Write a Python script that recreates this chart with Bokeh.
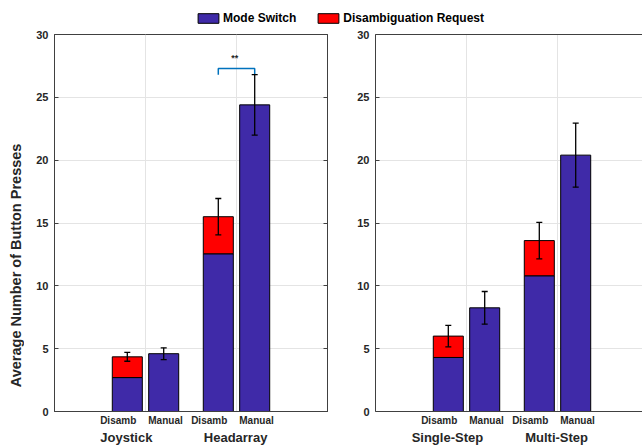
import numpy as np
from bokeh.plotting import figure
from bokeh.models import (Range1d, Whisker, TeeHead, Legend, LegendItem,
                          FixedTicker, LinearAxis, ColumnDataSource, CustomJSTickFormatter)
from bokeh.core.properties import value
from bokeh.layouts import column, row
from bokeh.embed import file_html
from bokeh.resources import INLINE

# ---------------- data ----------------
sub_labels = ["Disamb", "Manual"]
legend_labels = ["Mode Switch", "Disambiguation Request"]
y_title = "Average Number of Button Presses"
sig_text = "**"
y_ticks = [0, 5, 10, 15, 20, 25, 30]

left_groups = ["Joystick", "Headarray"]
left_ms_disamb = [2.7, 12.55]      # mode switch part of Disamb bar
left_dr_disamb = [1.65, 2.95]      # disambiguation request part
left_err_disamb = [0.35, 1.45]
left_ms_manual = [4.6, 24.4]
left_err_manual = [0.47, 2.4]

right_groups = ["Single-Step", "Multi-Step"]
right_ms_disamb = [4.3, 10.8]
right_dr_disamb = [1.7, 2.8]
right_err_disamb = [0.85, 1.45]
right_ms_manual = [8.25, 20.4]
right_err_manual = [1.3, 2.55]

# ---------------- style / layout ----------------
FONT = "Liberation Sans"
MS_COLOR = "#3F2AA8"
DR_COLOR = "#FF0000"
AX_COLOR = "#404040"
TXT_COLOR = "#262626"
GRID_COLOR = "#e4e4e4"
BAR_W = 0.33
BAR_OFF = 0.2
SUB_OFF = [-0.30, 0.22]
GROUP_LABEL_X = [0.79, 1.99]
PX_PER_UNIT = 91.0
LEG_H = 28
PANEL_H = 400
GROUP_H = 18
TITLE_W = 24
P1_W, P1_BL, P1_BR = 323, 30, 20
P2_W, P2_BL = 295, 28


def style_axis(ax, labels=True):
    ax.axis_line_color = AX_COLOR
    ax.major_tick_line_color = AX_COLOR
    ax.minor_tick_line_color = None
    ax.major_tick_in = 4
    ax.major_tick_out = 0
    ax.major_label_text_font = FONT
    ax.major_label_text_font_style = "bold"
    ax.major_label_text_font_size = "11px"
    ax.major_label_text_color = TXT_COLOR
    if not labels:
        ax.formatter = CustomJSTickFormatter(code="return ''")
        ax.major_label_standoff = 0


def panel(groups, ms_d, dr_d, err_d, ms_m, err_m, width, mbl, mbr, x_end,
          first, sig=False):
    p = figure(width=width, height=PANEL_H, x_range=Range1d(0, x_end),
               y_range=Range1d(0, 30), output_backend="svg",
               toolbar_location=None, min_border_left=mbl,
               min_border_right=mbr, min_border_top=6, min_border_bottom=16)
    p.background_fill_color = "white"
    p.border_fill_color = "white"
    gx = np.arange(1, len(groups) + 1, dtype=float)
    xd = gx - BAR_OFF
    xm = gx + BAR_OFF
    ms_d = np.array(ms_d)
    tot = ms_d + np.array(dr_d)

    p.xgrid.ticker = FixedTicker(ticks=list(gx))
    p.ygrid.ticker = FixedTicker(ticks=y_ticks)
    p.grid.grid_line_color = GRID_COLOR
    p.grid.grid_line_width = 1

    yax = p.left[0]
    yax.ticker = FixedTicker(ticks=y_ticks)
    style_axis(yax)
    yax.major_label_standoff = 6

    # bottom axis: sub labels
    sub_x = [float(g + SUB_OFF[si]) for g in gx for si in range(len(sub_labels))]
    sub_t = [sub_labels[si] for g in gx for si in range(len(sub_labels))]
    xax = p.below[0]
    style_axis(xax)
    xax.ticker = FixedTicker(ticks=sub_x)
    xax.formatter = CustomJSTickFormatter(args=dict(labels=sub_t),
                                          code="return labels[index];")
    xax.major_tick_in = 0
    xax.major_tick_out = 0
    xax.major_label_text_font_size = "10px"
    xax.major_label_standoff = 3

    p.vbar(x=xd, bottom=0, top=ms_d, width=BAR_W, fill_color=MS_COLOR,
           line_color="black", line_width=1)
    p.vbar(x=xd, bottom=ms_d, top=tot, width=BAR_W, fill_color=DR_COLOR,
           line_color="black", line_width=1)
    p.vbar(x=xm, bottom=0, top=ms_m, width=BAR_W, fill_color=MS_COLOR,
           line_color="black", line_width=1)

    means = np.concatenate([tot, np.array(ms_m)])
    errs = np.concatenate([np.array(err_d), np.array(err_m)])
    src = ColumnDataSource(dict(x=np.concatenate([xd, xm]),
                                lower=means - errs, upper=means + errs))
    w = Whisker(base="x", lower="lower", upper="upper", source=src,
                dimension="height", line_color="black", line_width=1.3,
                upper_head=TeeHead(size=6, line_color="black", line_width=1.3),
                lower_head=TeeHead(size=6, line_color="black", line_width=1.3),
                level="annotation")
    p.add_layout(w)

    if first:
        p.outline_line_color = AX_COLOR
        p.outline_line_alpha = 1
        rax = LinearAxis(ticker=FixedTicker(ticks=y_ticks))
        style_axis(rax, labels=False)
        p.add_layout(rax, "right")
    else:
        p.outline_line_color = None
        tax = LinearAxis(ticker=FixedTicker(ticks=[]))
        style_axis(tax, labels=False)
        tax.major_tick_in = 0
        p.add_layout(tax, "above")

    if sig:
        g = gx[1]
        top = max(tot[1] + err_d[1], ms_m[1] + err_m[1])
        by = top + 0.5
        p.line(x=[g - BAR_OFF, g - BAR_OFF, g + BAR_OFF, g + BAR_OFF],
               y=[top, by, by, top], line_color="#0072BD", line_width=1.5)
        p.text(x=[g - 0.02], y=[by + 0.8], text=[sig_text],
               text_align="center", text_baseline="middle",
               text_font=value(FONT), text_font_style="bold",
               text_font_size="9px", text_color=TXT_COLOR)
    return p


# y-axis title strip
tf = figure(width=TITLE_W, height=PANEL_H, x_range=Range1d(0, TITLE_W),
            y_range=Range1d(0, PANEL_H), output_backend="svg",
            toolbar_location=None, x_axis_location=None, y_axis_location=None,
            min_border=0, outline_line_color=None)
tf.grid.visible = False
tf.text(x=[15], y=[PANEL_H - 245], text=[y_title], angle=np.pi / 2,
        text_align="center", text_baseline="middle", text_font=value(FONT),
        text_font_style="bold", text_font_size="14.5px", text_color=TXT_COLOR)

p1 = panel(left_groups, left_ms_disamb, left_dr_disamb, left_err_disamb,
           left_ms_manual, left_err_manual, width=P1_W, mbl=P1_BL, mbr=P1_BR,
           x_end=3.0, first=True, sig=True)
p2 = panel(right_groups, right_ms_disamb, right_dr_disamb, right_err_disamb,
           right_ms_manual, right_err_manual, width=P2_W, mbl=P2_BL, mbr=0,
           x_end=(642 - TITLE_W - P1_W - P2_BL) / PX_PER_UNIT, first=False)

# group-name strip at the bottom
left_frame_x = TITLE_W + P1_BL
right_frame_x = TITLE_W + P1_W + P2_BL
gl_x = ([left_frame_x + gxl * PX_PER_UNIT for gxl in GROUP_LABEL_X] +
        [right_frame_x + gxl * PX_PER_UNIT for gxl in GROUP_LABEL_X])
gl_t = left_groups + right_groups
gl = figure(width=642, height=GROUP_H, x_range=Range1d(0, 642),
            y_range=Range1d(0, GROUP_H), output_backend="svg",
            toolbar_location=None, x_axis_location=None, y_axis_location=None,
            min_border=0, outline_line_color=None)
gl.grid.visible = False
gl.text(x=gl_x, y=[9] * len(gl_x), text=gl_t, text_align="center",
        text_baseline="middle", text_font=value(FONT), text_font_style="bold",
        text_font_size="13px", text_color=TXT_COLOR)

# legend strip
lf = figure(width=642, height=LEG_H, x_range=Range1d(0, 1), y_range=Range1d(0, 1),
            output_backend="svg", toolbar_location=None,
            x_axis_location=None, y_axis_location=None, min_border=0,
            outline_line_color=None)
lf.grid.visible = False
dummy = ColumnDataSource(dict(x=[0.5], top=[0.5]))
r1 = lf.vbar(x="x", top="top", width=0.1, source=dummy,
             fill_color=MS_COLOR, line_color="black")
r2 = lf.vbar(x="x", top="top", width=0.1, source=dummy,
             fill_color=DR_COLOR, line_color="black")
r1.visible = False
r2.visible = False
leg = Legend(items=[LegendItem(label=legend_labels[0], renderers=[r1]),
                    LegendItem(label=legend_labels[1], renderers=[r2])],
             orientation="horizontal", location=(195, 3), glyph_width=26,
             glyph_height=12, label_standoff=2, spacing=19, padding=0,
             margin=0, border_line_color=None, background_fill_alpha=0,
             inactive_fill_alpha=0,
             label_text_font=FONT, label_text_font_style="bold",
             label_text_font_size="12px", label_height=12,
             label_text_color="black")
lf.add_layout(leg)

layout = column(lf, row(tf, p1, p2), gl)
open("out.html", "w").write(file_html(layout, INLINE))
